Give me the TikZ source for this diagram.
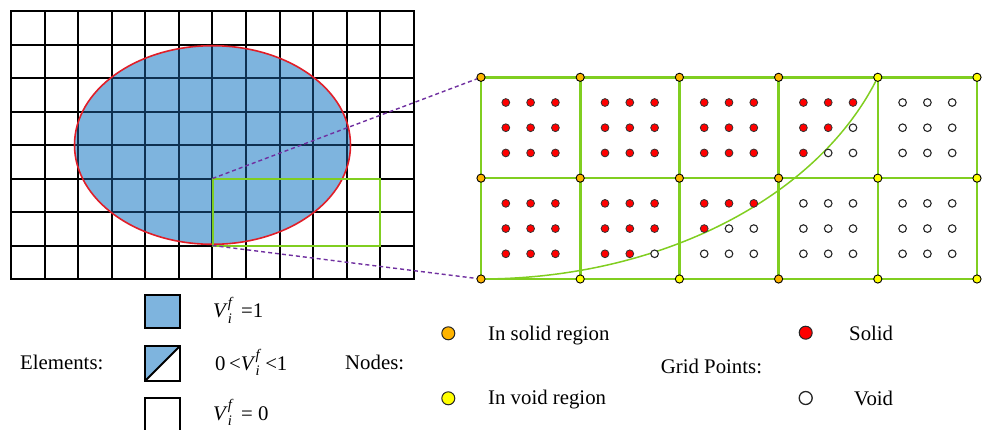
\documentclass[tikz,border=0pt]{standalone}
\usepackage{fontspec}
\usepackage{amsmath}
\setmainfont{Liberation Serif}
\definecolor{cellblue}{RGB}{126,180,222}
\definecolor{navyln}{RGB}{14,48,80}
\definecolor{ellred}{RGB}{225,30,40}
\definecolor{lgreen}{RGB}{128,206,32}
\definecolor{purp}{RGB}{112,48,160}
\definecolor{nodeor}{RGB}{255,180,0}
\definecolor{nodeye}{RGB}{255,255,0}
\newcommand{\Vif}{\textit{V}$^{\textit{f}}_{\textit{i}}$}
\begin{document}
\begin{tikzpicture}[x=1pt,y=-1pt,
  font=\fontsize{20.8pt}{24pt}\selectfont,
  gridln/.style={line width=2pt, line cap=rect},
  pgrid/.style={lgreen, line width=2.6pt, line cap=rect},
  zoomln/.style={purp, line width=1.4pt, dash pattern=on 4pt off 3pt},
  gnode/.style={circle, draw=black, line width=0.9pt, inner sep=0pt, minimum size=8.2pt},
  onode/.style={gnode, fill=nodeor},
  ynode/.style={gnode, fill=nodeye},
  solidpt/.style={circle, draw=black!80, line width=0.8pt, fill=red, inner sep=0pt, minimum size=7.8pt},
  voidpt/.style={circle, draw=black!85, line width=1.1pt, fill=white, inner sep=0pt, minimum size=7.6pt},
  legnode/.style={circle, draw=black!85, line width=1pt, inner sep=0pt, minimum size=13pt},
  legbox/.style={draw=black, line width=2pt},
  lbl/.style={anchor=base west, inner sep=0pt}]
\useasboundingbox (0,0) rectangle (989,429);

% ---------- left mesh ----------
\foreach \i in {0,...,12}
  \draw[gridln] ({11+\i*33.583},11) -- ({11+\i*33.583},279);
\foreach \j in {0,...,8}
  \draw[gridln] (11,{11+\j*33.5}) -- (414,{11+\j*33.5});
\fill[cellblue] (212.5,145) ellipse [x radius=138pt, y radius=99.3pt];
\begin{scope}
  \clip (212.5,145) ellipse [x radius=138pt, y radius=99.3pt];
  \foreach \i in {0,...,12}
    \draw[gridln, navyln] ({11+\i*33.583},11) -- ({11+\i*33.583},279);
  \foreach \j in {0,...,8}
    \draw[gridln, navyln] (11,{11+\j*33.5}) -- (414,{11+\j*33.5});
\end{scope}
\draw[ellred, line width=1.6pt] (212.5,145) ellipse [x radius=138pt, y radius=99.3pt];
\draw[lgreen, line width=2pt] (212.5,178.5) rectangle (380.4,245.5);
\coordinate (rA) at (212.5,178.5);
\coordinate (rB) at (212.5,245.5);

% ---------- right zoomed panel ----------
\foreach \i in {0,...,5}
  \foreach \j in {0,1,2}
    \coordinate (p-\i-\j) at ({481+\i*99.2},{77.3+\j*100.85});
\foreach \j in {0,1,2} \draw[pgrid] (p-0-\j) -- (p-5-\j);
\foreach \i in {0,...,5} \draw[pgrid] (p-\i-0) -- (p-\i-2);
\draw[zoomln] (rA) -- (p-0-0);
\draw[zoomln] (rB) -- (p-0-2);
\draw[lgreen, line width=1.5pt] plot[domain=90:19.5, samples=80, smooth]
  ({481+420.9*cos(\x)},{-23.8+302.8*sin(\x)});

% grid points
\foreach \c in {0,...,4}
 \foreach \r in {0,1}
  \foreach \p in {0,1,2}
   \foreach \q in {0,1,2}{
     \pgfmathsetmacro\px{481+\c*99.2+(\p+1)*24.8}
     \pgfmathsetmacro\py{77.3+\r*100.85+(\q+1)*25.2125}
     \pgfmathtruncatemacro\inside{(((\px-481)/420.9)^2+((\py+23.8)/302.8)^2<1) ? 1 : 0}
     \ifnum\inside=1
       \node[solidpt] (g-\c-\r-\p-\q) at (\px,\py) {};
     \else
       \node[voidpt] (g-\c-\r-\p-\q) at (\px,\py) {};
     \fi
   }

% mesh nodes
\foreach \j/\types in {0/{o,o,o,o,y,y},1/{o,o,o,o,y,y},2/{o,y,y,o,y,y}}
  \foreach \t [count=\i from 0] in \types
    \node[\t node] (n-\i-\j) at (p-\i-\j) {};

% ---------- legend ----------
\node[lbl] (elem) at (20,369) {Elements:};
\draw[legbox, fill=cellblue] (145,295) rectangle (180,328.3);
\fill[cellblue] (145,381) -- (145,346) -- (180,346) -- cycle;
\draw[legbox] (145,346) rectangle (180,381);
\draw[legbox] (145,381) -- (180,346);
\draw[legbox] (145,398.3) rectangle (180,432);
\node[lbl] (v1) at (213,317.3) {\Vif\ \,=1};
\node[lbl] (v2) at (215,370) {0\,<\Vif\ <1};
\node[lbl] (v3) at (213,420) {\Vif\ \,= 0};

\node[lbl] (nodes) at (345,369) {Nodes:};
\node[legnode, fill=nodeor] (lo) at (448.3,333.3) {};
\node[legnode, fill=nodeye] (ly) at (448.3,398.3) {};
\node[lbl] (tsolidreg) at (488,340) {In solid region};
\node[lbl] (tvoidreg) at (488,404) {In void region};

\node[lbl] (gp) at (660.7,373) {Grid Points:};
\node[legnode, fill=red] (lr) at (805.7,332.7) {};
\node[legnode, fill=white, line width=1.3pt] (lw) at (805.7,398) {};
\node[lbl] (tsolid) at (849,340) {Solid};
\node[lbl] (tvoid) at (854,405) {Void};
\end{tikzpicture}
\end{document}
